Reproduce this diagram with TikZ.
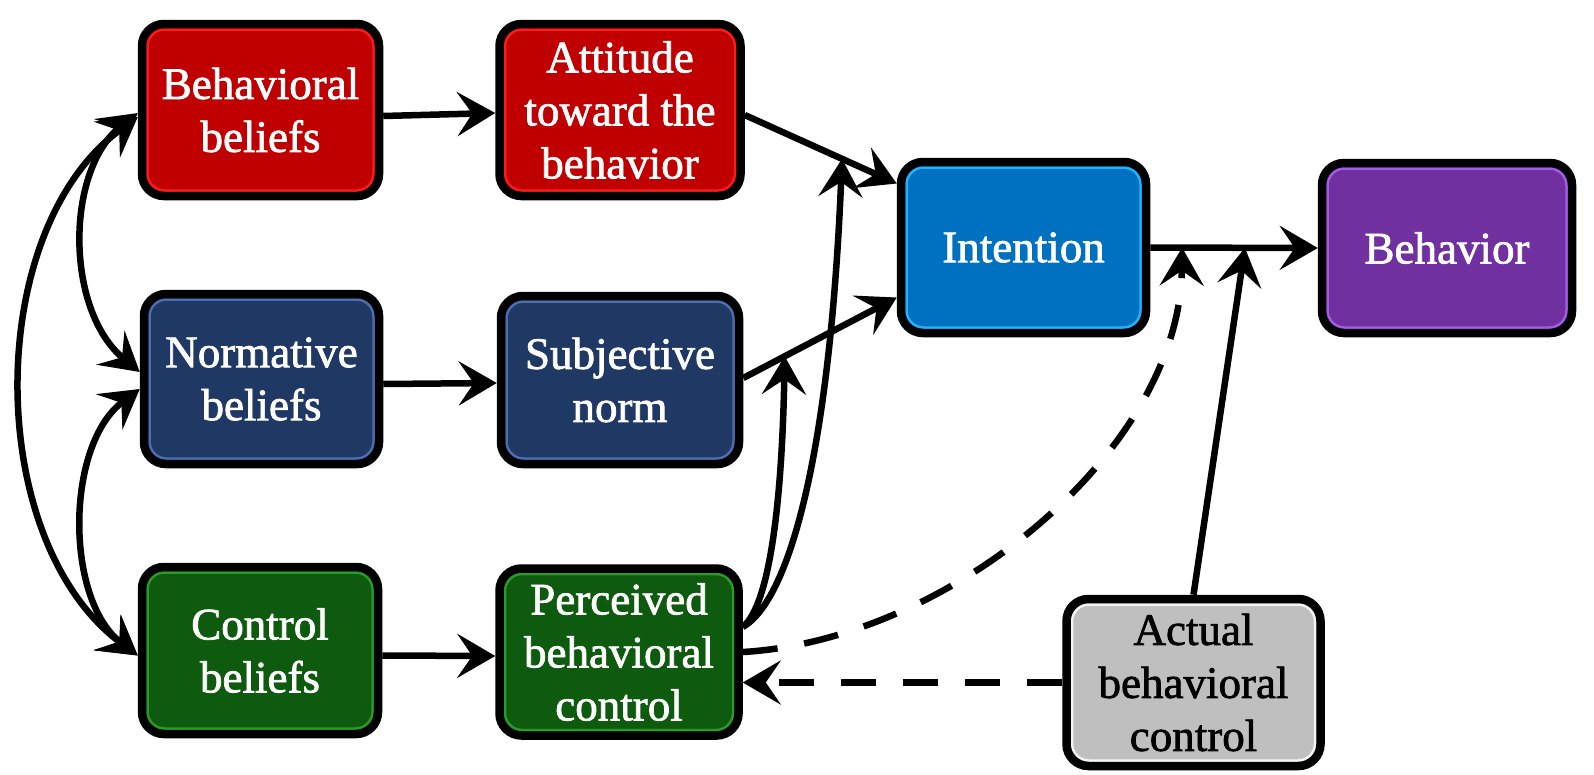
\documentclass[tikz,border=0pt]{standalone}
\usepackage{fontspec}
\setmainfont{Liberation Serif}
\newfontfamily\boxfont[FakeBold=1.6]{Liberation Serif}
\usetikzlibrary{arrows.meta,calc}
\definecolor{bbred}{HTML}{C00000}
\definecolor{bbredl}{HTML}{FF1A1A}
\definecolor{navy}{HTML}{203864}
\definecolor{navyl}{HTML}{4A6EB0}
\definecolor{dgreen}{HTML}{0E5A0E}
\definecolor{dgreenl}{HTML}{2A9A2A}
\definecolor{iblue}{HTML}{0070C0}
\definecolor{ibluel}{HTML}{1EB4FF}
\definecolor{bpurple}{HTML}{7030A0}
\definecolor{bpurplel}{HTML}{A45CE6}
\definecolor{agray}{HTML}{BFBFBF}
\definecolor{agrayl}{HTML}{F4F4F4}
\tikzset{
  box/.style 2 args={draw=black, line width=8.5pt, fill=#1, rounded corners=22pt,
    inner sep=0pt, outer sep=4.25pt, align=center, text=white,
    font=\boxfont\fontsize{45}{53}\selectfont,
    path picture={\draw[#2, line width=2.5pt, rounded corners=17pt]
      ([shift={(5.5pt,-5.5pt)}]path picture bounding box.north west) rectangle
      ([shift={(-5.5pt,5.5pt)}]path picture bounding box.south east);}},
  tip/.tip={Stealth[length=38pt,width=44pt,inset=15pt]},
  conn/.style={line width=6.5pt, -tip},
  conn2/.style={line width=6.5pt, tip-tip},
  dconn/.style={line width=6.5pt, -tip, dash pattern=on 35pt off 27pt},
}
\begin{document}
\begin{tikzpicture}[x=1pt,y=-1pt]
\useasboundingbox (0,0) rectangle (1594,774);
\node[box={bbred}{bbredl}, minimum width=237pt, minimum height=172pt] (bb) at (260.5,110) {Behavioral\\beliefs};
\node[box={bbred}{bbredl}, minimum width=241pt, minimum height=172pt] (att) at (620,110) {Attitude\\toward the\\behavior};
\node[box={navy}{navyl}, minimum width=235pt, minimum height=170pt] (nb) at (261.5,379) {Normative\\beliefs};
\node[box={navy}{navyl}, minimum width=238pt, minimum height=168pt] (sn) at (620,380) {Subjective\\norm};
\node[box={dgreen}{dgreenl}, minimum width=236pt, minimum height=167pt] (cb) at (260,650.5) {Control\\beliefs};
\node[box={dgreen}{dgreenl}, minimum width=239pt, minimum height=167pt] (pbc) at (619,652) {Perceived\\behavioral\\control};
\node[box={iblue}{ibluel}, minimum width=245pt, minimum height=171pt] (int) at (1023.5,247.5) {Intention};
\node[box={bpurple}{bpurplel}, minimum width=250pt, minimum height=170pt] (beh) at (1447,248) {Behavior};
\node[box={agray}{agrayl}, text=black, minimum width=254pt, minimum height=167pt] (abc) at (1193.5,682.5) {Actual\\behavioral\\control};

% straight links
\draw[conn] ($(bb.east)+(0,6)$) -- ($(att.west)+(0,3)$);
\draw[conn] ($(nb.east)+(0,5)$) -- ($(sn.west)+(0,3)$);
\draw[conn] ($(cb.east)+(0,5)$) -- ($(pbc.west)+(0,4)$);
\coordinate (p1) at ($(att.east)+(0,5)$);
\coordinate (q1) at ($(int.west)+(0,-64)$);
\coordinate (p2) at ($(sn.east)+(0,-2)$);
\coordinate (q2) at ($(int.west)+(0,50)$);
\draw[conn] (p1) -- (q1);
\draw[conn] (p2) -- (q2);
\draw[conn] (int.east) -- (beh.west);
\coordinate (t1) at ($(p1)!0.64!(q1)$);
\coordinate (t2) at ($(p2)!0.27!(q2)$);
\coordinate (t3) at ($(int.east)!0.19!(beh.west)$);
\coordinate (t4) at ($(int.east)!0.565!(beh.west)$);
% PBC curves
\coordinate (s1) at ($(pbc.east)+(0,-25)$);
\draw[conn] (s1) .. controls (770,605) and (782,500) .. (t2);
\draw[conn] (s1) .. controls (790,600) and (830,450) .. (t1);
\draw[dconn] (pbc.east) .. controls (950,640) and (1180,450) .. (t3);
\draw[conn] (abc.north) -- (t4);
\draw[dconn] (abc.west) -- (abc.west -| pbc.east);
% left arcs
\draw[conn2] ($(bb.west)+(0,3)$) .. controls (65,170) and (65,310) .. ($(nb.west)+(0,-7)$);
\draw[conn2] ($(bb.west)+(0,7)$) .. controls (-17,230) and (-17,540) .. ($(cb.west)+(0,5)$);
\draw[conn2] ($(nb.west)+(0,10)$) .. controls (65,445) and (65,600) .. ($(cb.west)+(0,5)$);
\end{tikzpicture}
\end{document}
